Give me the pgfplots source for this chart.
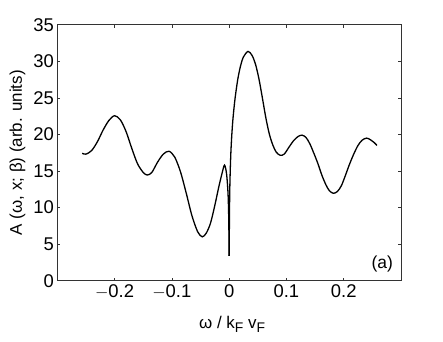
\documentclass[border=0pt]{standalone}
\usepackage{pgfplots}
\pgfplotsset{compat=1.18}
\usepackage{fontspec}
\setmainfont{Liberation Sans}
\begin{document}
\begin{tikzpicture}
\begin{axis}[
  name=main,
  scale only axis,
  width=343.7bp, height=256bp,
  xmin=-0.3, xmax=0.3, ymin=0, ymax=35,
  xtick={-0.2,-0.1,0,0.1,0.2},
  xticklabels={$-$0.2,$-$0.1,0,0.1,0.2},
  ytick={0,5,10,15,20,25,30,35},
  tick align=inside,
  major tick length=3bp,
  axis line style={line width=0.6bp, black!80},
  every tick/.style={black!80, line width=0.5bp},
  /pgf/number format/assume math mode=true,
  tick label style={font=\fontsize{18.5}{21}\selectfont},
  ylabel={A (ω, x; β) (arb. units)},
  xlabel={ω / k\raisebox{-0.45ex}{\fontsize{14}{16}\selectfont F} v\raisebox{-0.45ex}{\fontsize{14}{16}\selectfont F}},
  label style={font=\fontsize{17}{20}\selectfont},
  ylabel style={at={(axis description cs:-0.1158,0.5)}, anchor=center},
  xlabel style={at={(axis description cs:0.5,0)}, anchor=base, yshift=-47.3bp, xshift=3bp},
]
\addplot[black, line width=1.3bp, smooth] coordinates {
(-0.2565,17.42) (-0.25,17.3) (-0.24,17.8) (-0.23,19.0) (-0.22,20.6) (-0.21,21.9)
(-0.20,22.56) (-0.19,22.0) (-0.18,20.4) (-0.17,18.1) (-0.16,16.0) (-0.15,14.8)
(-0.143,14.45) (-0.135,14.8) (-0.125,16.2) (-0.115,17.3) (-0.105,17.7)
(-0.095,16.9) (-0.085,14.9) (-0.075,12.0) (-0.065,8.9) (-0.055,6.7) (-0.047,6.0)
(-0.04,6.5) (-0.0326,7.85) (-0.025,10.3) (-0.018,12.85) (-0.012,14.8)
(-0.008,15.8) (-0.0045,14.6) (-0.002,12.0) (-0.0007,8.5) (0,3.4)
};
\addplot[black, line width=1.3bp, smooth] coordinates {
(0,3.4) (0.001,12.0) (0.003,17.5) (0.006,21.5) (0.01,24.7) (0.015,27.5)
(0.02,29.4) (0.025,30.6) (0.033,31.35) (0.04,30.8) (0.046,29.6) (0.052,27.6)
(0.058,25.0) (0.064,22.3) (0.07,20.1) (0.076,18.6) (0.082,17.6) (0.089,17.15)
(0.096,17.3) (0.104,18.2) (0.112,19.1) (0.12,19.7) (0.127,19.9) (0.134,19.6)
(0.141,18.7) (0.148,17.4) (0.155,16.0) (0.162,14.4) (0.169,13.1) (0.175,12.3)
(0.182,11.95) (0.189,12.2) (0.196,13.0) (0.203,14.4) (0.21,15.9) (0.218,17.4)
(0.225,18.5) (0.232,19.2) (0.24,19.5) (0.247,19.25) (0.253,18.9) (0.258,18.5)
};
\node[anchor=south east, inner sep=0pt, font=\fontsize{17.5}{20}\selectfont] at (rel axis cs:0.977,0.034) {(a)};
\end{axis}
\path (main.south west) ++(-57.3bp,-61.3bp) rectangle ++(443bp,342bp);
\end{tikzpicture}
\end{document}
